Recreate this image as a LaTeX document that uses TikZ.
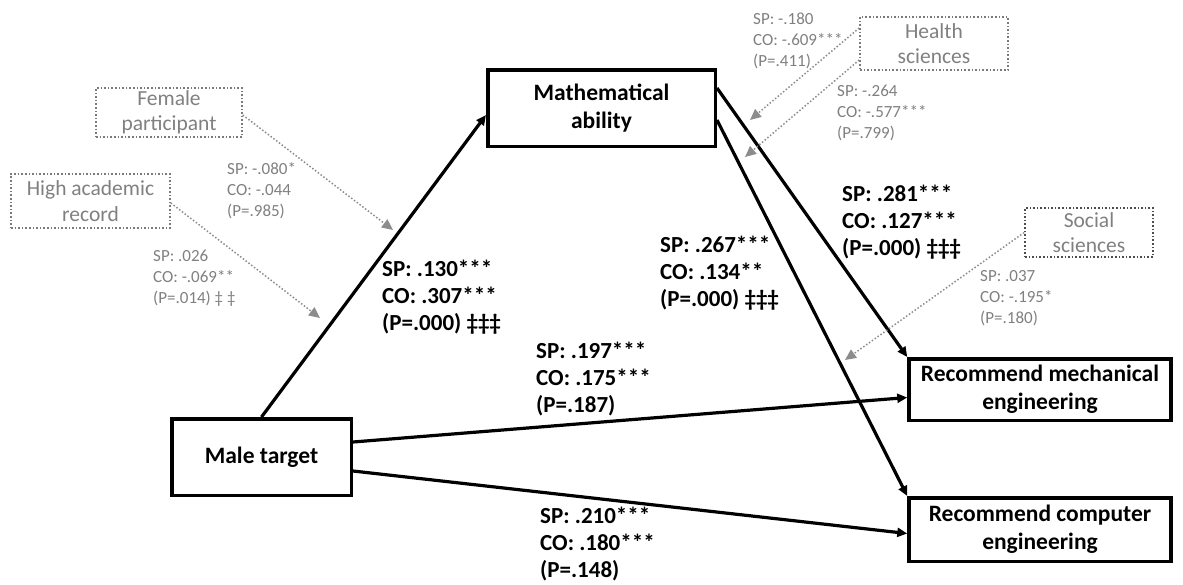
\documentclass[tikz,border=0pt]{standalone}
\usepackage{fontspec}
\setmainfont{Carlito}
\usetikzlibrary{arrows.meta}
\definecolor{gtext}{HTML}{808080}
\definecolor{gline}{HTML}{8C8C8C}
\definecolor{gbord}{HTML}{7A7A7A}
\begin{document}
\begin{tikzpicture}[x=1pt,y=-1pt,
  bbox/.style={draw, line width=3.5pt, font=\fontsize{23.5}{28}\selectfont\bfseries, align=center, inner sep=0pt},
  gbox/.style={draw=gbord, dotted, line width=1.6pt, text=gtext, font=\fontsize{21.5}{25.5}\selectfont, align=center, inner sep=0pt},
  blab/.style={font=\fontsize{23}{27}\selectfont\bfseries, align=left, anchor=north west, inner sep=0pt},
  glab/.style={font=\fontsize{17}{21}\selectfont, text=gtext, align=left, anchor=north west, inner sep=0pt},
  barrow/.style={line width=3.2pt, -{Triangle[length=10pt,width=9pt]}},
  garrow/.style={gline, line width=1.5pt, dotted, -{Triangle[length=11pt,width=10pt]}}]
\useasboundingbox (0,0) rectangle (1183,584);

% main boxes
\node[bbox, minimum width=227.5pt, minimum height=76.5pt] (math) at (601.5,108) {Mathematical\\ability};
\node[bbox, minimum width=179.5pt, minimum height=76.5pt] (male) at (261.5,457) {Male target};
\node[bbox, minimum width=262pt, minimum height=61.5pt] (mech) at (1040,389.5) {Recommend mechanical\\engineering};
\node[bbox, minimum width=262pt, minimum height=63.5pt] (comp) at (1040,529.5) {Recommend computer\\engineering};

% moderator boxes
\node[gbox, minimum width=146pt, minimum height=49pt] (fem) at (169,112.5) {Female\\participant};
\node[gbox, minimum width=159pt, minimum height=54pt] (high) at (90.5,201) {High academic\\record};
\node[gbox, minimum width=148pt, minimum height=53pt] (health) at (934,43.5) {Health\\sciences};
\node[gbox, draw=black!70, minimum width=128pt, minimum height=49pt] (social) at (1089,232.5) {Social\\sciences};

% main paths
\draw[barrow] (male.north) -- ([yshift=-7pt]math.west);
\draw[barrow] ([yshift=15pt]male.east) -- ([yshift=-8pt]mech.west);
\draw[barrow] ([yshift=-14pt]male.east) -- ([yshift=-4pt]comp.west);
\draw[barrow] ([yshift=20pt]math.east) -- (mech.north west);
\draw[barrow] ([yshift=-12pt]math.east) -- (comp.north west);

% moderator arrows
\coordinate (tf) at (393,230);
\coordinate (th) at (320,318);
\coordinate (th1) at (750,120);
\coordinate (th2) at (745,157);
\coordinate (ts) at (845,360);
\draw[garrow] ([yshift=-2.5pt]fem.east) -- (tf);
\draw[garrow] ([yshift=-2pt]high.east) -- (th);
\draw[garrow] ([yshift=15.5pt]health.west) -- (th1);
\draw[garrow] ([yshift=-16.5pt]health.west) -- (th2);
\draw[garrow] (social.west) -- (ts);

% bold labels
\node[blab] (l130) at (382,259.5) {SP: .130***\\CO: .307***\\(P=.000) ‡‡‡};
\node[blab] (l197) at (536,342) {SP: .197***\\CO: .175***\\(P=.187)};
\node[blab] (l210) at (540,507) {SP: .210***\\CO: .180***\\(P=.148)};
\node[blab] (l267) at (660,236) {SP: .267***\\CO: .134**\\(P=.000) ‡‡‡};
\node[blab] (l281) at (842,185) {SP: .281***\\CO: .127***\\(P=.000) ‡‡‡};

% gray labels
\node[glab] (lfem) at (227,162.5) {SP: -.080*\\CO: -.044\\(P=.985)};
\node[glab] (lhigh) at (153,249.5) {SP: .026\\CO: -.069**\\(P=.014) ‡ ‡};
\node[glab] (lh1) at (753,12.5) {SP: -.180\\CO: -.609***\\(P=.411)};
\node[glab] (lh2) at (837,84.5) {SP: -.264\\CO: -.577***\\(P=.799)};
\node[glab] (lsoc) at (980,270.5) {SP: .037\\CO: -.195*\\(P=.180)};
\end{tikzpicture}
\end{document}
